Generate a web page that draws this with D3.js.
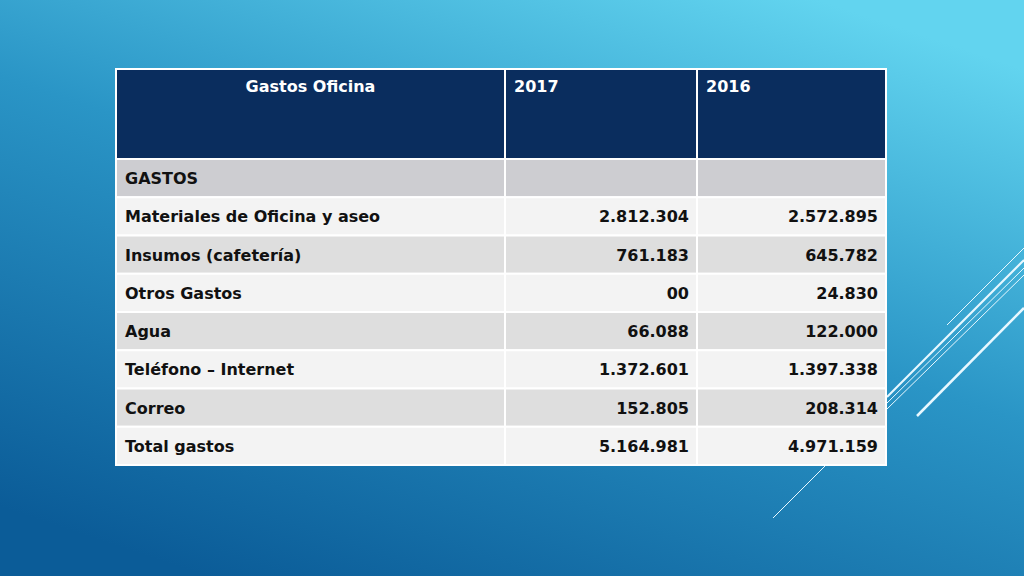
<!DOCTYPE html><html><head><meta charset="utf-8"><script src="https://cdn.jsdelivr.net/npm/d3@7"></script>
<style>body{margin:0;overflow:hidden}</style></head><body><svg id="c" width="1024" height="576"></svg>
<script>
const headers=["Gastos Oficina","2017","2016"];
const categories=["GASTOS","Materiales de Oficina y aseo","Insumos (cafetería)","Otros Gastos","Agua","Teléfono – Internet","Correo","Total gastos"];
const values2017=["","2.812.304","761.183","00","66.088","1.372.601","152.805","5.164.981"];
const values2016=["","2.572.895","645.782","24.830","122.000","1.397.338","208.314","4.971.159"];
const svg=d3.select("#c");
const defs=svg.append("defs");
const g=defs.append("linearGradient").attr("id","bg").attr("x1","0.2").attr("y1","1").attr("x2","0.8").attr("y2","0");
g.append("stop").attr("offset","0").attr("stop-color","#0b5c98");
g.append("stop").attr("offset","0.55").attr("stop-color","#2a95c6");
g.append("stop").attr("offset","1").attr("stop-color","#62d4ef");
svg.append("rect").attr("width",1024).attr("height",576).attr("fill","url(#bg)");
const lines=[[773,518,886,405,1],[947,325,1024,248,1],[887,397,1024,260,2],[887,403,1024,268,1],[887,409,1024,275,1],[917,416,1024,308,2.5]];
svg.selectAll("line.d").data(lines).join("line").attr("x1",d=>d[0]).attr("y1",d=>d[1]).attr("x2",d=>d[2]).attr("y2",d=>d[3]).attr("stroke","#e8f8ff").attr("stroke-width",d=>d[4]);
const cols=[116,505,697,886];
const y=d3.scaleBand().domain(d3.range(categories.length)).range([159,465]);
const font="'DejaVu Sans',sans-serif";
svg.append("rect").attr("x",116).attr("y",69).attr("width",770).attr("height",90).attr("fill","#0a2d5e").attr("stroke","#fff").attr("stroke-width",2);
headers.forEach((h,i)=>{
 svg.append("line").attr("x1",cols[i]).attr("x2",cols[i]).attr("y1",69).attr("y2",159).attr("stroke","#fff").attr("stroke-width",2);
 svg.append("text").attr("x",i==0?(cols[0]+cols[1])/2:cols[i]+9).attr("y",92).attr("text-anchor",i==0?"middle":"start").attr("fill","#fff").attr("font-family",font).attr("font-weight","bold").attr("font-size",16).text(h);
});
categories.forEach((c,r)=>{
 const fill=r==0?"#cdcdd1":(r%2==1?"#f3f3f3":"#dedede");
 for(let i=0;i<3;i++){
  svg.append("rect").attr("x",cols[i]).attr("y",y(r)).attr("width",cols[i+1]-cols[i]).attr("height",y.bandwidth()).attr("fill",fill).attr("stroke","#fff").attr("stroke-width",2);
 }
 const ty=y(r)+y.bandwidth()/2+6;
 svg.append("text").attr("x",cols[0]+9).attr("y",ty).attr("font-family",font).attr("font-weight","bold").attr("font-size",16).attr("fill","#111").text(c);
 [values2017[r],values2016[r]].forEach((v,i)=>svg.append("text").attr("x",cols[i+2]-8).attr("y",ty).attr("text-anchor","end").attr("font-family",font).attr("font-weight","bold").attr("font-size",16).attr("fill","#111").text(v));
});
</script></body></html>
